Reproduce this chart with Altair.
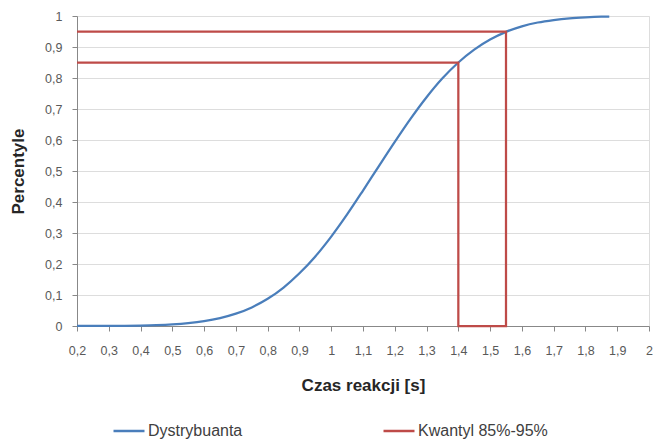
import altair as alt
import pandas as pd

# Blue CDF curve
cdf_x = [0.2, 0.25, 0.3, 0.35, 0.4, 0.45, 0.5, 0.55, 0.6, 0.65, 0.7, 0.75, 0.8,
         0.85, 0.9, 0.95, 1.0, 1.05, 1.1, 1.15, 1.2, 1.25, 1.3, 1.35, 1.4, 1.45,
         1.5, 1.55, 1.6, 1.65, 1.7, 1.75, 1.8, 1.85, 1.875]
cdf_y = [0.0001, 0.0002, 0.0004, 0.0008, 0.0016, 0.003, 0.0054, 0.0094, 0.0157,
         0.0255, 0.0398, 0.060, 0.0877, 0.124, 0.170, 0.2245, 0.2885, 0.36, 0.437,
         0.516, 0.594, 0.669, 0.738, 0.799, 0.850, 0.8915, 0.924, 0.9488, 0.9666,
         0.979, 0.987, 0.9925, 0.9957, 0.9977, 0.998]

# Red quantile path 85%-95%
q_x = [0.2, 1.4, 1.4, 1.55, 1.55, 0.2]
q_y = [0.85, 0.85, 0.0, 0.0, 0.95, 0.95]

series_names = ["Dystrybuanta", "Kwantyl 85%-95%"]
series_colors = ["#4a7ebb", "#be4b48"]

x_ticks = [0.2, 0.3, 0.4, 0.5, 0.6, 0.7, 0.8, 0.9, 1.0, 1.1, 1.2, 1.3, 1.4,
           1.5, 1.6, 1.7, 1.8, 1.9, 2.0]
y_ticks = [0.0, 0.1, 0.2, 0.3, 0.4, 0.5, 0.6, 0.7, 0.8, 0.9, 1.0]

cdf_df = pd.DataFrame({"x": cdf_x, "y": cdf_y, "s": series_names[0],
                       "o": list(range(len(cdf_x)))})
q_df = pd.DataFrame({"x": q_x, "y": q_y, "s": series_names[1],
                     "o": list(range(len(q_x)))})

FONT = "Lato"
label_expr = "replace(format(datum.value, '.1~f'), '.', ',')"

x_enc = alt.X("x:Q",
              scale=alt.Scale(domain=[0.2, 2.0], nice=False, zero=False),
              axis=alt.Axis(values=x_ticks, labelExpr=label_expr, grid=False,
                            labelFlush=False,
                            title="Czas reakcji [s]",
                            titleX=286, titleY=59, titleBaseline="middle",
                            titleAlign="center",
                            tickSize=5, labelPadding=13,
                            labelFontSize=12.5, labelColor="#595959",
                            titleFontSize=17, titleFontWeight="bold",
                            titleColor="#262626"))
y_enc = alt.Y("y:Q",
              scale=alt.Scale(domain=[0, 1], nice=False),
              axis=alt.Axis(values=y_ticks, labelExpr=label_expr, grid=True,
                            labelFlush=False,
                            title="Percentyle",
                            titleX=-59, titleY=155, titleBaseline="middle",
                            titleAlign="center", titleAngle=-90,
                            tickSize=5, labelPadding=10,
                            labelFontSize=12.5, labelColor="#595959",
                            titleFontSize=17, titleFontWeight="bold",
                            titleColor="#262626"))
color_enc = alt.Color("s:N",
                      scale=alt.Scale(domain=series_names, range=series_colors),
                      legend=alt.Legend(title=None, orient="none",
                                        direction="horizontal",
                                        legendX=35, legendY=398,
                                        symbolType="stroke", symbolSize=961,
                                        symbolStrokeWidth=2.5,
                                        labelOffset=2, labelFontSize=16,
                                        labelColor="#404040",
                                        columnPadding=135, columns=2))

cdf_line = alt.Chart(cdf_df).mark_line(strokeWidth=2.25, interpolate="monotone").encode(
    x=x_enc, y=y_enc, color=color_enc, order=alt.Order("o:Q"))
q_line = alt.Chart(q_df).mark_line(strokeWidth=2.25, strokeJoin="miter").encode(
    x=x_enc, y=y_enc, color=color_enc, order=alt.Order("o:Q"))

chart = alt.layer(cdf_line, q_line).properties(
    width=572, height=310,
    autosize=alt.AutoSizeParams(type="none"),
    padding={"left": 77, "top": 16, "right": 22, "bottom": 115},
).configure_view(stroke=None).configure_axis(
    labelFont=FONT, titleFont=FONT,
    domainColor="#868686", tickColor="#868686",
    gridColor="#a6a6a6", gridWidth=1,
).configure_legend(labelFont=FONT).configure(background="white")

chart.save("out.html", embed_options={"renderer": "svg", "actions": False})
